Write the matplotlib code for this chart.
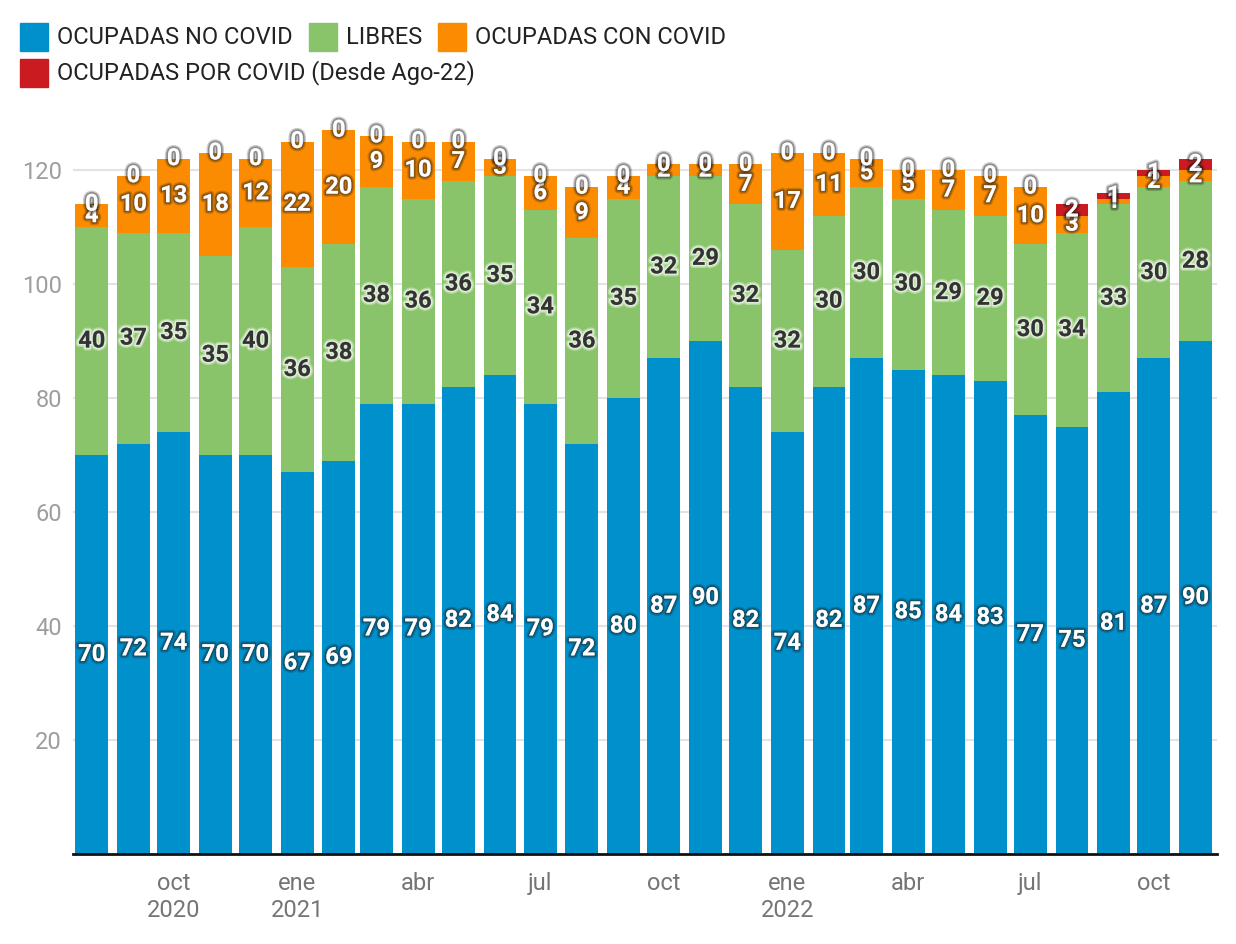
import matplotlib
matplotlib.use("Agg")
import matplotlib.pyplot as plt
import matplotlib.dates as mdates
import matplotlib.patheffects as pe
from matplotlib.patches import Rectangle
import numpy as np
import pandas as pd

plt.rcParams['font.family'] = ['Roboto', 'DejaVu Sans']

# monthly data, Aug 2020 - Nov 2022
months = pd.date_range("2020-08-01", periods=28, freq="MS")
no_covid = [70, 72, 74, 70, 70, 67, 69, 79, 79, 82, 84, 79, 72, 80,
            87, 90, 82, 74, 82, 87, 85, 84, 83, 77, 75, 81, 87, 90]
libres = [40, 37, 35, 35, 40, 36, 38, 38, 36, 36, 35, 34, 36, 35,
          32, 29, 32, 32, 30, 30, 30, 29, 29, 30, 34, 33, 30, 28]
con_covid = [4, 10, 13, 18, 12, 22, 20, 9, 10, 7, 3, 6, 9, 4,
             2, 2, 7, 17, 11, 5, 5, 7, 7, 10, 3, 1, 2, 2]
por_covid = [0, 0, 0, 0, 0, 0, 0, 0, 0, 0, 0, 0, 0, 0,
             0, 0, 0, 0, 0, 0, 0, 0, 0, 0, 2, 1, 1, 2]

series_names = ["OCUPADAS NO COVID", "LIBRES", "OCUPADAS CON COVID",
                "OCUPADAS POR COVID (Desde Ago-22)"]
colors = ["#0090CB", "#89C46B", "#FB8B00", "#C91B20"]

tick_dates = pd.to_datetime(["2020-10-01", "2021-01-01", "2021-04-01", "2021-07-01",
                             "2021-10-01", "2022-01-01", "2022-04-01", "2022-07-01",
                             "2022-10-01"])
tick_labels = ["oct\n2020", "ene\n2021", "abr", "jul", "oct", "ene\n2022",
               "abr", "jul", "oct"]

W, H = 1236, 944
fig = plt.figure(figsize=(W / 100, H / 100), dpi=100)
ax = fig.add_axes([73 / W, 1 - 854 / H, (1217 - 73) / W, (854 - 113) / H])

x = mdates.date2num(months)
all_series = [no_covid, libres, con_covid, por_covid]
bottom = np.zeros(len(x))
dark_glow = [pe.withStroke(linewidth=4.5, foreground=(0.1, 0.1, 0.1, 0.22)),
             pe.withStroke(linewidth=2.5, foreground=(0.1, 0.1, 0.1, 0.35))]
light_glow = [pe.withStroke(linewidth=4.5, foreground=(1, 1, 1, 0.35)),
              pe.withStroke(linewidth=2.5, foreground=(1, 1, 1, 0.55))]
for vals, col, name in zip(all_series, colors, series_names):
    vals = np.array(vals, dtype=float)
    ax.bar(x, vals, bottom=bottom, width=24.5, color=col, label=name, zorder=2)
    for xi, b, v in zip(x, bottom, vals):
        if col == colors[1]:
            tc, eff = "#333333", light_glow
        else:
            tc, eff = "white", dark_glow
        ax.text(xi, b + v / 2, f"{int(v)}", ha="center", va="center",
                fontsize=17, fontweight="bold", color=tc, path_effects=eff, zorder=5)
    bottom += vals

ax.set_ylim(0, 130)
ax.set_xlim(x[0] - 14, x[-1] + 16)
ax.set_yticks([20, 40, 60, 80, 100, 120])
ax.tick_params(axis="y", length=0, labelsize=17, labelcolor="#9E9E9E", pad=8)
ax.set_xticks(mdates.date2num(tick_dates))
ax.set_xticklabels(tick_labels)
ax.tick_params(axis="x", length=0, labelsize=17, labelcolor="#757575", pad=13)
ax.grid(axis="y", color="#E3E3E3", linewidth=1.5, zorder=0)
ax.set_axisbelow(True)
for s in ["left", "right", "top"]:
    ax.spines[s].set_visible(False)
ax.spines["bottom"].set_linewidth(2)
ax.spines["bottom"].set_color("#111111")
ax.spines["bottom"].set_zorder(6)

# legend drawn by hand: 3 entries on the first row, 1 on the second
fig.canvas.draw()
renderer = fig.canvas.get_renderer()
rows = [[0, 1, 2], [3]]
row_y = [37, 73]
for row, yc in zip(rows, row_y):
    xpos = 20
    for i in row:
        fig.add_artist(Rectangle((xpos / W, 1 - (yc + 14) / H), 28 / W, 28 / H,
                                 transform=fig.transFigure, color=colors[i]))
        t = fig.text((xpos + 37) / W, 1 - yc / H, series_names[i], fontsize=17,
                     color="#222222", va="center", ha="left")
        bb = t.get_window_extent(renderer)
        xpos = bb.x1 + 16

fig.savefig("out.png", dpi=100)
